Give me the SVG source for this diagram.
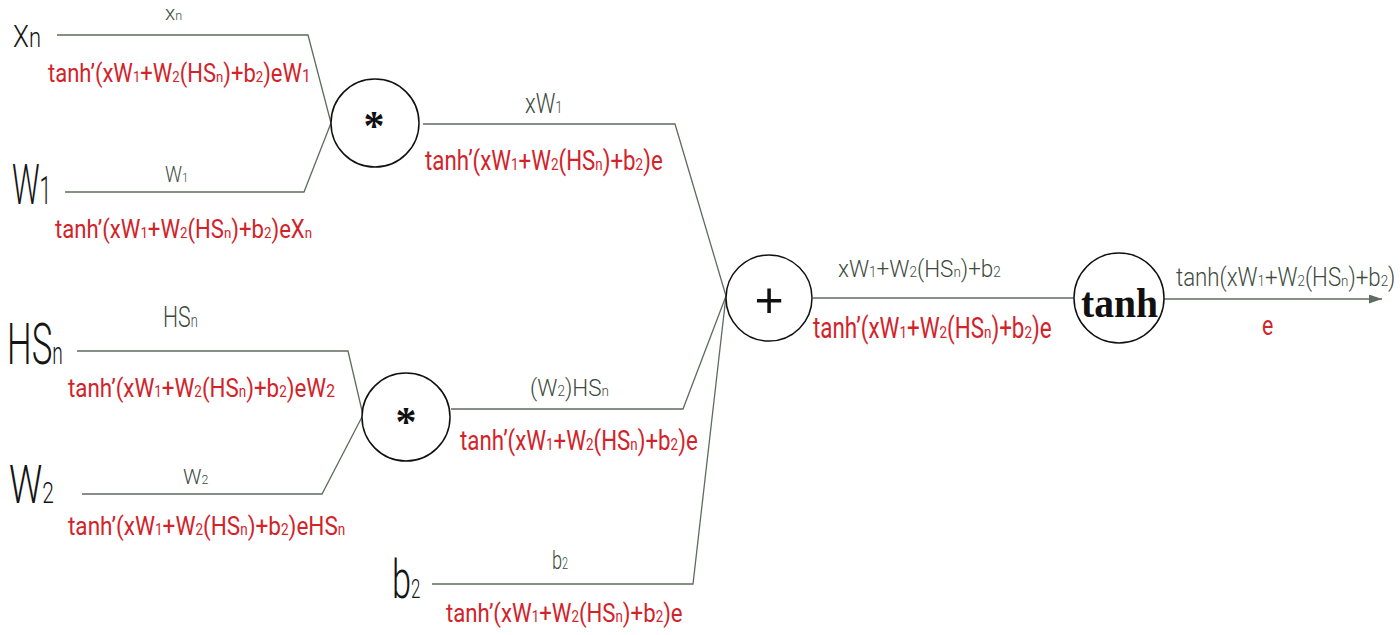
<svg xmlns="http://www.w3.org/2000/svg" width="1400" height="635" viewBox="0 0 1400 635">
<style>
text{font-family:Roboto,"Liberation Sans",sans-serif;font-weight:300}
.big{fill:#151515}
.g{fill:#3d4a3d}
.r{fill:#d2232a;font-weight:400}
.s{font-size:60%}
.ln{fill:none;stroke:#5f6b5f;stroke-width:1.3}
.node{fill:#fff;stroke:#111;stroke-width:1.5}
.op{font-family:"Liberation Serif",serif;font-weight:bold;fill:#111}
</style>
<defs>
<marker id="ah" markerUnits="userSpaceOnUse" markerWidth="14" markerHeight="10" refX="13" refY="4.5" orient="auto">
<path d="M0,0 L13,4.5 L0,9 z" fill="#5f6b5f"/>
</marker>
</defs>
<rect width="1400" height="635" fill="#fff"/>
<g id="connectors">
<path class="ln" d="M57,35 H308 L331,123"/>
<path class="ln" d="M65,192 H304 L331,123"/>
<path class="ln" d="M423,124 H675 L726,296"/>
<path class="ln" d="M77,351 H348 L363,415"/>
<path class="ln" d="M82,494 H322 L363,415"/>
<path class="ln" d="M451,409 H683 L726,296"/>
<path class="ln" d="M432,584 H693 L726,296"/>
<path class="ln" d="M813,298 H1075"/>
<path class="ln" d="M1164,299 H1382" marker-end="url(#ah)"/>
</g>
<g id="input-xn">
<text class="big" transform="translate(13,47) scale(0.812,1)" font-size="32">X<tspan font-size="27">n</tspan></text>
<text class="g" transform="translate(165,20)" font-size="21">x<tspan class="s">n</tspan></text>
<text class="r" transform="translate(48,82) scale(0.88,1)" font-size="25">tanh’(xW<tspan class="s">1</tspan>+W<tspan class="s">2</tspan>(HS<tspan class="s">n</tspan>)+b<tspan class="s">2</tspan>)eW<tspan font-size="70%">1</tspan></text>
</g>
<g id="input-w1">
<text class="big" transform="translate(12,204) scale(0.56,1)" font-size="55">W<tspan font-size="38">1</tspan></text>
<text class="g" transform="translate(165,182) scale(0.862,1)" font-size="22">W<tspan class="s">1</tspan></text>
<text class="r" transform="translate(55,238) scale(0.885,1)" font-size="25">tanh’(xW<tspan class="s">1</tspan>+W<tspan class="s">2</tspan>(HS<tspan class="s">n</tspan>)+b<tspan class="s">2</tspan>)eX<tspan class="s">n</tspan></text>
</g>
<g id="input-hsn">
<text class="big" transform="translate(7,364) scale(0.6,1)" font-size="58">HS<tspan font-size="32">n</tspan></text>
<text class="g" transform="translate(163,327) scale(0.71,1)" font-size="30">HS<tspan class="s">n</tspan></text>
<text class="r" transform="translate(68,397) scale(0.86,1)" font-size="26">tanh’(xW<tspan class="s">1</tspan>+W<tspan class="s">2</tspan>(HS<tspan class="s">n</tspan>)+b<tspan class="s">2</tspan>)eW<tspan font-size="70%">2</tspan></text>
</g>
<g id="input-w2">
<text class="big" transform="translate(9,503) scale(0.7,1)" font-size="53">W<tspan font-size="30">2</tspan></text>
<text class="g" transform="translate(183,484) scale(0.98,1)" font-size="21">W<tspan class="s">2</tspan></text>
<text class="r" transform="translate(68,535) scale(0.867,1)" font-size="26">tanh’(xW<tspan class="s">1</tspan>+W<tspan class="s">2</tspan>(HS<tspan class="s">n</tspan>)+b<tspan class="s">2</tspan>)eHS<tspan class="s">n</tspan></text>
</g>
<g id="input-b2">
<text class="big" transform="translate(392,598) scale(0.65,1)" font-size="53">b<tspan font-size="26">2</tspan></text>
<text class="g" transform="translate(552,569) scale(0.7,1)" font-size="26">b<tspan class="s">2</tspan></text>
<text class="r" transform="translate(446,622) scale(0.854,1)" font-size="26">tanh’(xW<tspan class="s">1</tspan>+W<tspan class="s">2</tspan>(HS<tspan class="s">n</tspan>)+b<tspan class="s">2</tspan>)e</text>
</g>
<g id="mul1">
<circle class="node" cx="375" cy="123" r="44"/>
<text class="op" x="374" y="140" font-size="42" text-anchor="middle">*</text>
<text class="g" transform="translate(525,113) scale(0.81,1)" font-size="27">xW<tspan class="s">1</tspan></text>
<text class="r" transform="translate(425,170) scale(0.826,1)" font-size="27">tanh’(xW<tspan class="s">1</tspan>+W<tspan class="s">2</tspan>(HS<tspan class="s">n</tspan>)+b<tspan class="s">2</tspan>)e</text>
</g>
<g id="mul2">
<circle class="node" cx="406" cy="417" r="44"/>
<text class="op" x="406" y="436" font-size="42" text-anchor="middle">*</text>
<text class="g" transform="translate(530,396) scale(0.936,1)" font-size="24">(W<tspan class="s">2</tspan>)HS<tspan class="s">n</tspan></text>
<text class="r" transform="translate(460,450) scale(0.826,1)" font-size="27">tanh’(xW<tspan class="s">1</tspan>+W<tspan class="s">2</tspan>(HS<tspan class="s">n</tspan>)+b<tspan class="s">2</tspan>)e</text>
</g>
<g id="add">
<circle class="node" cx="769" cy="298" r="43"/>
<text x="769" y="317" font-size="50" text-anchor="middle" style="font-family:'Liberation Sans',sans-serif;font-weight:normal;fill:#111">+</text>
<text class="g" transform="translate(838,277) scale(0.9375,1)" font-size="24">xW<tspan class="s">1</tspan>+W<tspan class="s">2</tspan>(HS<tspan class="s">n</tspan>)+b<tspan class="s">2</tspan></text>
<text class="r" transform="translate(813,338) scale(0.772,1)" font-size="29">tanh’(xW<tspan class="s">1</tspan>+W<tspan class="s">2</tspan>(HS<tspan class="s">n</tspan>)+b<tspan class="s">2</tspan>)e</text>
</g>
<g id="tanh">
<circle class="node" cx="1119" cy="298" r="45"/>
<text class="op" x="1081" y="317" font-size="43" textLength="77" lengthAdjust="spacingAndGlyphs">tanh</text>
<text class="g" transform="translate(1176,286) scale(0.892,1)" font-size="25">tanh(xW<tspan class="s">1</tspan>+W<tspan class="s">2</tspan>(HS<tspan class="s">n</tspan>)+b<tspan class="s">2</tspan>)</text>
<text class="r" transform="translate(1262,335) scale(0.763,1)" font-size="28">e</text>
</g>
</svg>
